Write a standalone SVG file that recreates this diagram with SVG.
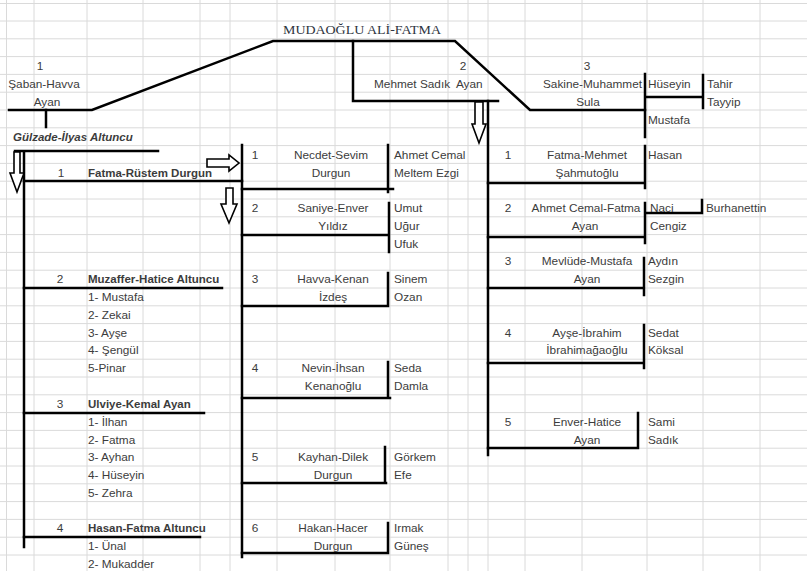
<svg xmlns="http://www.w3.org/2000/svg" width="807" height="571" viewBox="0 0 807 571">
<style>
.g{stroke:#dadada;stroke-width:1;fill:none}
.ln{stroke:#000;stroke-width:2.5;fill:none;stroke-linecap:square}
.arr{fill:#fff;stroke:#000;stroke-width:1.6;stroke-linejoin:miter}
text{font-family:"Liberation Sans",Arial,sans-serif;font-size:11.8px;fill:#3c3c3c}
.b{font-weight:bold;font-size:11.5px}
.bi{font-weight:bold;font-style:italic;font-size:11.5px}
.c{text-anchor:middle}
.title{font-family:"Liberation Serif","Times New Roman",serif;font-size:13px;fill:#2e3440}
</style>
<rect width="807" height="571" fill="#fff"/>
<g id="grid" class="g">
<path d="M0 3.5H807M0 21H807M0 38.8H807M0 56.6H807M0 74.4H807M0 92.2H807M0 110H807M0 127.8H807M0 145.6H807M0 163.4H807M0 181.2H807M0 199H807M0 216.8H807M0 234.6H807M0 252.4H807M0 270.2H807M0 288H807M0 305.8H807M0 323.6H807M0 341.4H807M0 359.2H807M0 377H807M0 394.8H807M0 412.6H807M0 430.4H807M0 448.2H807M0 466H807M0 483.8H807M0 501.6H807M0 519.4H807M0 537.2H807M0 555H807"/>
<path d="M6.5 0V571M34 0V571M87 0V571M143 0V571M200 0V571M230 0V571M277 0V571M335 0V571M390 0V571M448 0V571M468 0V571M488 0V571M525 0V571M582 0V571M647 0V571M703 0V571M760 0V571"/>
</g>
<g id="connectors">
<path class="ln" d="M9 110H92L273 41H455L530 110H645"/>
<path class="ln" d="M46 110V127"/>
<path class="ln" d="M353 41V101H498"/>
<path class="ln" d="M645 74V137M645 97H703M703 75V108"/>
<path class="ln" d="M15 151H158M24 151V547"/>
<path class="ln" d="M24 181H242M24 288H222M24 413H204M24 537H200"/>
<path class="ln" d="M242 145V557"/>
<path class="ln" d="M242 189H393M388 145V192"/>
<path class="ln" d="M242 235H388M389 203V252"/>
<path class="ln" d="M242 306H388M388 273V306"/>
<path class="ln" d="M242 398H390M388 362V398"/>
<path class="ln" d="M242 483H386M385 447V483"/>
<path class="ln" d="M242 553H388M388 523V553"/>
<path class="ln" d="M488 101V455"/>
<path class="ln" d="M488 183H645M645 146V188"/>
<path class="ln" d="M488 237H645M645 203V243M645 213H702M702 200V213"/>
<path class="ln" d="M488 288H644M644 258V295"/>
<path class="ln" d="M488 363H644M644 325V368"/>
<path class="ln" d="M488 448H638M638 413V448"/>
<polygon class="arr" points="14,152 20,152 20,173 24,173 17,192 10,173 14,173"/>
<polygon class="arr" points="207,159 229,159 229,155 239,163 229,171 229,167 207,167"/>
<polygon class="arr" points="226,188 233,188 233,204 237,204 229,223 221,204 226,204"/>
<polygon class="arr" points="475,102 483,102 483,124 486,124 479,143 472,124 475,124"/>
</g>
<g id="root"><text class="title" x="283" y="34" textLength="158" lengthAdjust="spacingAndGlyphs">MUDAOĞLU ALİ-FATMA</text></g>
<g id="saban-havva">
<text class="c" x="40" y="70">1</text>
<text class="c" x="44" y="88">Şaban-Havva</text>
<text class="c" x="47" y="106">Ayan</text>
</g>
<g id="mehmet-sadik">
<text class="c" x="463" y="70">2</text>
<text x="374" y="88">Mehmet Sadık&#160; Ayan</text>
</g>
<g id="sakine-muhammet">
<text class="c" x="587" y="70">3</text>
<text x="543" y="88">Sakine-Muhammet</text>
<text class="c" x="588" y="106">Sula</text>
<text x="648" y="88">Hüseyin</text>
<text x="707" y="88">Tahir</text>
<text x="707" y="106">Tayyip</text>
<text x="648" y="124">Mustafa</text>
</g>
<g id="gulzade-ilyas"><text class="bi" x="13" y="141">Gülzade-İlyas Altuncu</text></g>
<g id="fatma-rustem">
<text class="c" x="61" y="177">1</text>
<text class="b" x="88" y="177">Fatma-Rüstem Durgun</text>
</g>
<g id="muzaffer-hatice">
<text class="c" x="60" y="283">2</text>
<text class="b" x="88" y="283">Muzaffer-Hatice Altuncu</text>
<text x="88" y="301">1- Mustafa</text>
<text x="88" y="319">2- Zekai</text>
<text x="88" y="337">3- Ayşe</text>
<text x="88" y="354">4- Şengül</text>
<text x="88" y="372">5-Pinar</text>
</g>
<g id="ulviye-kemal">
<text class="c" x="60" y="408">3</text>
<text class="b" x="88" y="408">Ulviye-Kemal Ayan</text>
<text x="88" y="426">1- İlhan</text>
<text x="88" y="444">2- Fatma</text>
<text x="88" y="461">3- Ayhan</text>
<text x="88" y="479">4- Hüseyin</text>
<text x="88" y="497">5- Zehra</text>
</g>
<g id="hasan-fatma">
<text class="c" x="60" y="532">4</text>
<text class="b" x="88" y="532">Hasan-Fatma Altuncu</text>
<text x="88" y="550">1- Ünal</text>
<text x="88" y="568">2- Mukadder</text>
</g>
<g id="necdet-sevim">
<text class="c" x="255" y="159">1</text>
<text class="c" x="331" y="159">Necdet-Sevim</text>
<text class="c" x="331" y="177">Durgun</text>
<text x="394" y="159">Ahmet Cemal</text>
<text x="394" y="177">Meltem Ezgi</text>
</g>
<g id="saniye-enver">
<text class="c" x="255" y="212">2</text>
<text class="c" x="333" y="212">Saniye-Enver</text>
<text class="c" x="333" y="230">Yıldız</text>
<text x="394" y="212">Umut</text>
<text x="394" y="230">Uğur</text>
<text x="394" y="248">Ufuk</text>
</g>
<g id="havva-kenan">
<text class="c" x="255" y="283">3</text>
<text class="c" x="333" y="283">Havva-Kenan</text>
<text class="c" x="333" y="301">İzdeş</text>
<text x="394" y="283">Sinem</text>
<text x="394" y="301">Ozan</text>
</g>
<g id="nevin-ihsan">
<text class="c" x="255" y="372">4</text>
<text class="c" x="333" y="372">Nevin-İhsan</text>
<text class="c" x="333" y="390">Kenanoğlu</text>
<text x="394" y="372">Seda</text>
<text x="394" y="390">Damla</text>
</g>
<g id="kayhan-dilek">
<text class="c" x="255" y="461">5</text>
<text class="c" x="333" y="461">Kayhan-Dilek</text>
<text class="c" x="333" y="479">Durgun</text>
<text x="394" y="461">Görkem</text>
<text x="394" y="479">Efe</text>
</g>
<g id="hakan-hacer">
<text class="c" x="255" y="532">6</text>
<text class="c" x="333" y="532">Hakan-Hacer</text>
<text class="c" x="333" y="550">Durgun</text>
<text x="394" y="532">Irmak</text>
<text x="394" y="550">Güneş</text>
</g>
<g id="fatma-mehmet">
<text class="c" x="508" y="159">1</text>
<text class="c" x="587" y="159">Fatma-Mehmet</text>
<text class="c" x="587" y="177">Şahmutoğlu</text>
<text x="648" y="159">Hasan</text>
</g>
<g id="ahmet-cemal-fatma">
<text class="c" x="508" y="212">2</text>
<text class="c" x="586" y="212">Ahmet Cemal-Fatma</text>
<text class="c" x="585" y="230">Ayan</text>
<text x="650" y="212">Naci</text>
<text x="706" y="212">Burhanettin</text>
<text x="650" y="230">Cengiz</text>
</g>
<g id="mevlude-mustafa">
<text class="c" x="508" y="265">3</text>
<text class="c" x="587" y="265">Mevlüde-Mustafa</text>
<text class="c" x="587" y="283">Ayan</text>
<text x="648" y="265">Aydın</text>
<text x="648" y="283">Sezgin</text>
</g>
<g id="ayse-ibrahim">
<text class="c" x="508" y="337">4</text>
<text class="c" x="587" y="337">Ayşe-İbrahim</text>
<text class="c" x="587" y="354">İbrahimağaoğlu</text>
<text x="648" y="337">Sedat</text>
<text x="648" y="354">Köksal</text>
</g>
<g id="enver-hatice">
<text class="c" x="508" y="426">5</text>
<text class="c" x="587" y="426">Enver-Hatice</text>
<text class="c" x="587" y="444">Ayan</text>
<text x="648" y="426">Sami</text>
<text x="648" y="444">Sadık</text>
</g>
</svg>
